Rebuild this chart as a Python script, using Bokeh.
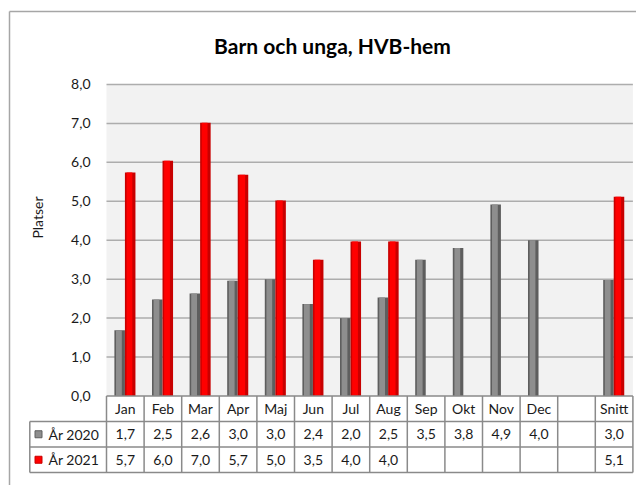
import math
from bokeh.plotting import figure
from bokeh.models import Range1d
from bokeh.embed import file_html
from bokeh.resources import INLINE
from bokeh.core.properties import value

# ---------------- data ----------------
title_text = "Barn och unga, HVB-hem"
y_label = "Platser"
categories = ["Jan", "Feb", "Mar", "Apr", "Maj", "Jun", "Jul", "Aug",
              "Sep", "Okt", "Nov", "Dec", "", "Snitt"]
series_names = ["År 2020", "År 2021"]
values_2020 = [1.69, 2.48, 2.63, 2.96, 3.0, 2.36, 2.0, 2.53, 3.5, 3.8, 4.92, 4.0, None, 2.98]
values_2021 = [5.74, 6.04, 7.02, 5.68, 5.02, 3.5, 3.97, 3.97, None, None, None, None, None, 5.12]
y_ticks = [0, 1, 2, 3, 4, 5, 6, 7, 8]

# ---------------- layout / styles ----------------
FONT = "Lato"
TXT = "#1a1a1a"
W, H = 636, 485
N = len(categories)
Y_MAX = 8
X0_PX, CW_PX = 106.0, 37.6      # pixel of category origin, px per category
Y0_PX, YU_PX = 395.5, 38.94     # pixel of value 0, px per unit
BAR_W = 0.28
offsets = [-0.15, 0.13]
series = [values_2020, values_2021]
base_colors = ["#5E5E5E", "#C80000"]
light_colors = ["#8E8E8E", "#FF0000"]
GRID_C = "#ADADAD"
TABLE_C = "#8A8A8A"
BORDER_C = "#A6A6A6"

def px_x(px):
    return (px - X0_PX) / CW_PX

def px_y(py):
    return (Y0_PX - py) / YU_PX

p = figure(width=W, height=H, title=None,
           x_range=Range1d(px_x(0), px_x(W)), y_range=Range1d(px_y(H), px_y(0)),
           x_axis_type=None, y_axis_type=None,
           output_backend="svg", toolbar_location=None,
           min_border=0)
p.outline_line_color = None
p.background_fill_color = "white"
p.border_fill_color = "white"
p.xgrid.visible = False
p.ygrid.visible = False

# outer chart border (left + top visible in the crop)
bx, by = px_x(9), px_y(11)
p.segment(x0=[bx, bx], y0=[by, by], x1=[px_x(W), bx], y1=[by, px_y(H)],
          line_color=BORDER_C, line_width=1.5)

# title
p.text(x=[px_x(332)], y=[px_y(45)], text=[title_text], text_align="center",
       text_baseline="alphabetic", text_font=value(FONT), text_font_size="21px",
       text_font_style="bold", text_color="#000000")

# plot area
p.quad(left=[0], right=[N], bottom=[0], top=[Y_MAX], fill_color="#F2F2F2", line_color=None)
gt = [t for t in y_ticks if t > 0]
p.segment(x0=[0] * len(gt), y0=gt, x1=[N] * len(gt), y1=gt,
          line_color=GRID_C, line_width=1.5)

# y tick labels and axis title
p.text(x=[px_x(90)] * len(y_ticks), y=y_ticks,
       text=[f"{t:.1f}".replace(".", ",") for t in y_ticks],
       text_align="right", text_baseline="middle", text_font=value(FONT),
       text_font_size="14px", text_color=TXT)
p.text(x=[px_x(37)], y=[px_y(217)], text=[y_label], angle=math.pi / 2,
       text_align="center", text_baseline="middle", text_font=value(FONT),
       text_font_size="14px", text_color=TXT)

# bars (cylinder-like shading)
for vals, off, c_base, c_light in zip(series, offsets, base_colors, light_colors):
    xs = [i + 0.5 + off for i, v in enumerate(vals) if v is not None]
    tops = [v for v in vals if v is not None]
    p.vbar(x=xs, top=tops, bottom=0, width=BAR_W, fill_color=c_base, line_color=None)
    p.vbar(x=[x - 0.02 for x in xs], top=tops, bottom=0, width=BAR_W * 0.55,
           fill_color=c_light, line_color=None)

# ---------------- data table ----------------
RH = 25.5 / YU_PX
LX = px_x(29.3)
rows_y = [0, -RH, -2 * RH, -3 * RH]
hx0 = [0, LX, LX, LX]
hx1 = [N] * 4
vx = list(range(N + 1)) + [LX]
vy0 = [0] * (N + 1) + [-RH]
vy1 = [-3 * RH] * (N + 2)
p.segment(x0=hx0, y0=rows_y, x1=hx1, y1=rows_y, line_color=TABLE_C, line_width=1.5)
p.segment(x0=vx, y0=vy0, x1=vx, y1=vy1, line_color=TABLE_C, line_width=1.5)

cx = [i + 0.5 for i in range(N)]
p.text(x=cx, y=[-0.5 * RH] * N, text=categories, text_align="center",
       text_baseline="middle", text_font=value(FONT), text_font_size="14px",
       text_color=TXT)

def fmt(v):
    return "" if v is None else f"{v:.1f}".replace(".", ",")

for r, vals in enumerate(series):
    p.text(x=cx, y=[-(r + 1.5) * RH] * N, text=[fmt(v) for v in vals],
           text_align="center", text_baseline="middle", text_font=value(FONT),
           text_font_size="14px", text_color=TXT)

# legend keys inside the table
key_y = [-1.5 * RH, -2.5 * RH]
p.scatter(x=[px_x(38)] * 2, y=key_y, marker="square", size=7,
          fill_color=light_colors, line_color=base_colors, line_width=1)
p.text(x=[px_x(48)] * 2, y=key_y, text=series_names, text_align="left",
       text_baseline="middle", text_font=value(FONT), text_font_size="14px",
       text_color=TXT)

open("out.html", "w").write(file_html(p, INLINE))
